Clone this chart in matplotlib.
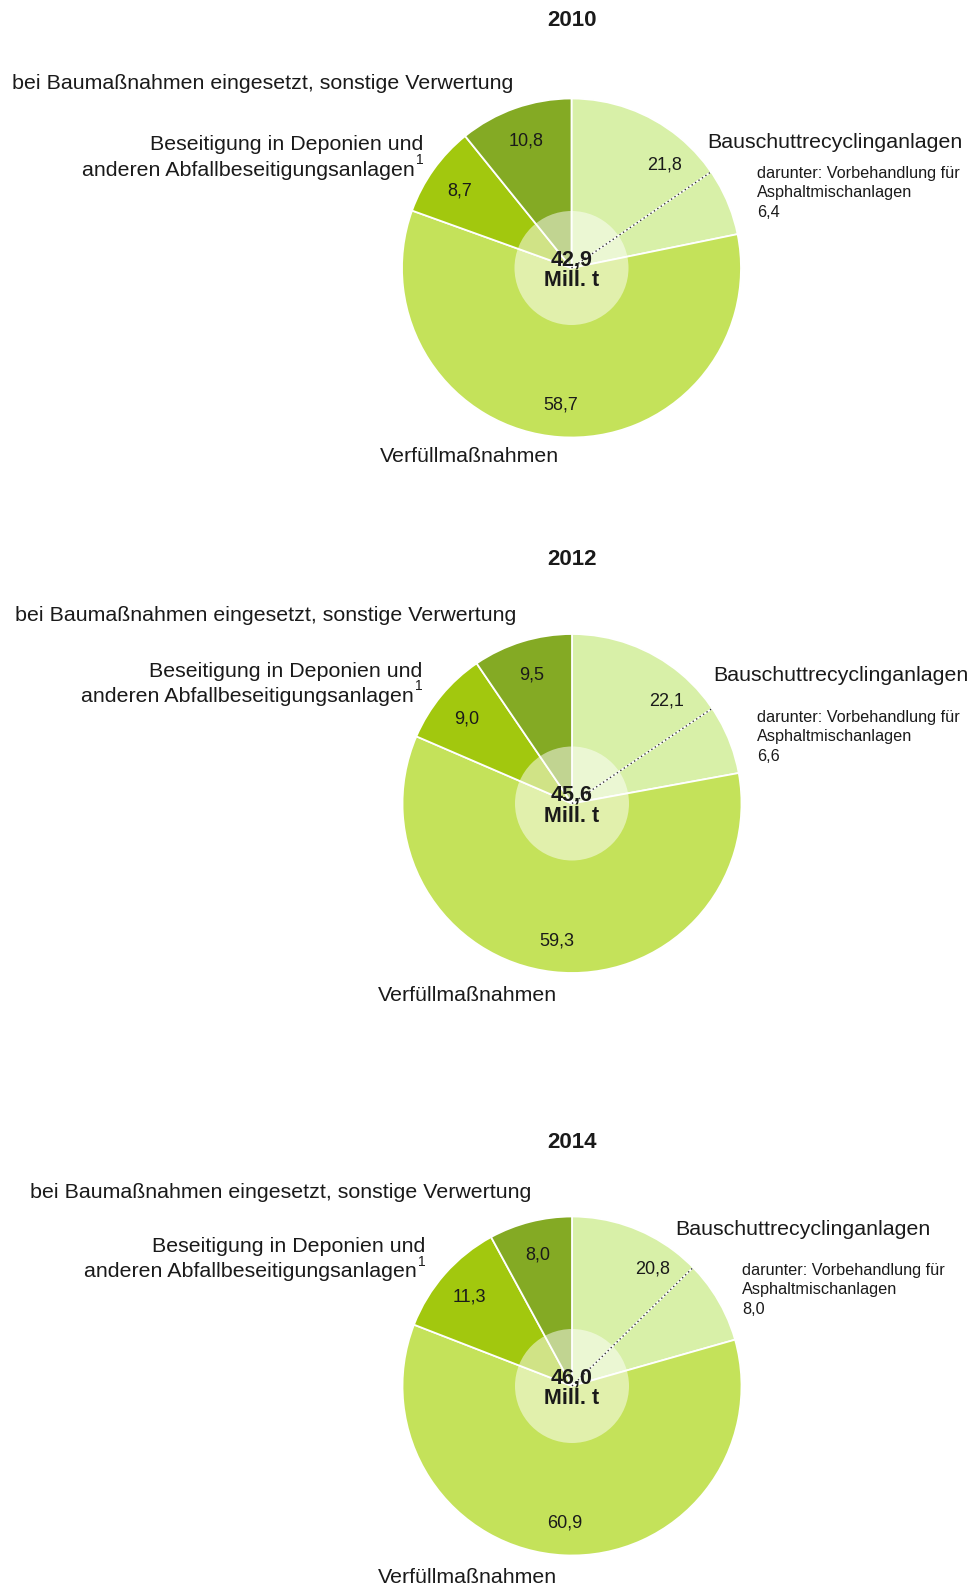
import matplotlib
matplotlib.use("Agg")
import matplotlib.pyplot as plt
from matplotlib.patches import Circle
import numpy as np

plt.rcParams['font.family'] = ['Liberation Sans', 'DejaVu Sans']

# ---- data ----
years = ['2010', '2012', '2014']
totals = [42.9, 45.6, 46.0]
recycling = [21.8, 22.1, 20.8]      # Bauschuttrecyclinganlagen
verfuellung = [58.7, 59.3, 60.9]    # Verfüllmaßnahmen
beseitigung = [8.7, 9.0, 11.3]      # Beseitigung in Deponien ...
baumassnahmen = [10.8, 9.5, 8.0]    # bei Baumaßnahmen eingesetzt, sonstige Verwertung
asphalt = [6.4, 6.6, 8.0]           # darunter: Vorbehandlung für Asphaltmischanlagen

lbl_bau = 'bei Baumaßnahmen eingesetzt, sonstige Verwertung'
lbl_bes1 = 'Beseitigung in Deponien und'
lbl_bes2 = 'anderen Abfallbeseitigungsanlagen'
lbl_rec = 'Bauschuttrecyclinganlagen'
lbl_dar = ['darunter: Vorbehandlung für', 'Asphaltmischanlagen']
lbl_ver = 'Verfüllmaßnahmen'

colors = ['#d8f0a8', '#c4e25a', '#a2c80e', '#84aa24']

# ---- layout (pixel coordinates, y from top) ----
W, H = 971, 1586
centers = [(571.5, 268), (572, 803.5), (572, 1386)]
R = 169.5
r_in = 57
title_y = [18, 557, 1140]
bau_pos = [(12, 81), (15, 613), (30, 1190)]
bes_pos = [(423, 142, 415, 168), (422, 669, 414, 694), (425, 1244, 417, 1269)]
rec_pos = [(707, 140), (713, 673), (675, 1227)]
dar_pos = [(757, 171), (757, 715), (742, 1268)]
ver_pos = [(469, 454), (467, 993), (467, 1575)]
val_pos = [
    [(665, 162), (561, 403), (460, 188), (526, 139)],
    [(667, 699), (557, 938), (467, 716), (532, 673)],
    [(653, 1267), (565, 1520), (469, 1295), (538, 1252)],
]

FS_LBL = 15.4
FS_SMALL = 11.7
FS_VAL = 13
FS_CTR = 15.5
FS_TITLE = 16
TXT = '#1a1a1a'
OFF = 2.5      # vertical text nudge (px)
DAR_STEP = 19.3


def Y(py):
    return H - py - OFF


def fmt(v):
    return f"{v:.1f}".replace('.', ',')


fig = plt.figure(figsize=(W / 100, H / 100), dpi=100)
ax = fig.add_axes([0, 0, 1, 1])

for i in range(3):
    cx, cy = centers[i]
    pcy = H - cy
    vals = [recycling[i], verfuellung[i], beseitigung[i], baumassnahmen[i]]
    ax.pie(vals, colors=colors, startangle=90, counterclock=False,
           center=(cx, pcy), radius=R, frame=True,
           wedgeprops=dict(edgecolor='white', linewidth=1.3))
    # inner translucent circle
    ax.add_patch(Circle((cx, pcy), r_in, facecolor='white', alpha=0.5,
                        edgecolor='none', zorder=3))
    # dotted line for asphalt part
    frac = (recycling[i] - asphalt[i]) / sum(vals)
    ang = np.deg2rad(90 - 360 * frac)
    x2, y2 = cx + R * np.cos(ang), pcy + R * np.sin(ang)
    ax.plot([cx, x2], [pcy, y2], color='white', lw=1.3, zorder=4)
    ax.plot([cx, x2], [pcy, y2], color='#333333', lw=1.0,
            linestyle=(0, (1, 2)), zorder=5)
    # center text
    ax.text(cx, Y(cy - 10.5), fmt(totals[i]), ha='center', va='center',
            fontsize=FS_CTR, fontweight='bold', color=TXT, zorder=6)
    ax.text(cx, Y(cy + 10.5), 'Mill. t', ha='center', va='center',
            fontsize=FS_CTR, fontweight='bold', color=TXT, zorder=6)
    # values
    for v, (px, py) in zip(vals, val_pos[i]):
        ax.text(px, Y(py), fmt(v), ha='center', va='center', fontsize=FS_VAL,
                color=TXT, zorder=6)
    # title
    ax.text(cx, Y(title_y[i]), years[i], ha='center', va='center',
            fontsize=FS_TITLE, fontweight='bold', color=TXT)
    # category labels
    ax.text(bau_pos[i][0], Y(bau_pos[i][1]), lbl_bau, ha='left', va='center',
            fontsize=FS_LBL, color=TXT)
    bx1, by1, bx2, by2 = bes_pos[i]
    ax.text(bx1, Y(by1), lbl_bes1, ha='right', va='center', fontsize=FS_LBL,
            color=TXT)
    ax.text(bx2, Y(by2), lbl_bes2, ha='right', va='center', fontsize=FS_LBL,
            color=TXT)
    ax.text(bx2 + 1, Y(by2 - 10), '1', ha='left', va='center', fontsize=10,
            color=TXT)
    ax.text(rec_pos[i][0], Y(rec_pos[i][1]), lbl_rec, ha='left', va='center',
            fontsize=FS_LBL, color=TXT)
    dx, dy = dar_pos[i]
    for k, line in enumerate(lbl_dar + [fmt(asphalt[i])]):
        ax.text(dx, Y(dy + k * DAR_STEP), line, ha='left', va='center',
                fontsize=FS_SMALL, color=TXT)
    ax.text(ver_pos[i][0], Y(ver_pos[i][1]), lbl_ver, ha='center', va='center',
            fontsize=FS_LBL, color=TXT)

ax.set_xlim(0, W)
ax.set_ylim(0, H)
ax.set_aspect('equal')
ax.axis('off')
fig.savefig('out.png', dpi=100, facecolor='white')
